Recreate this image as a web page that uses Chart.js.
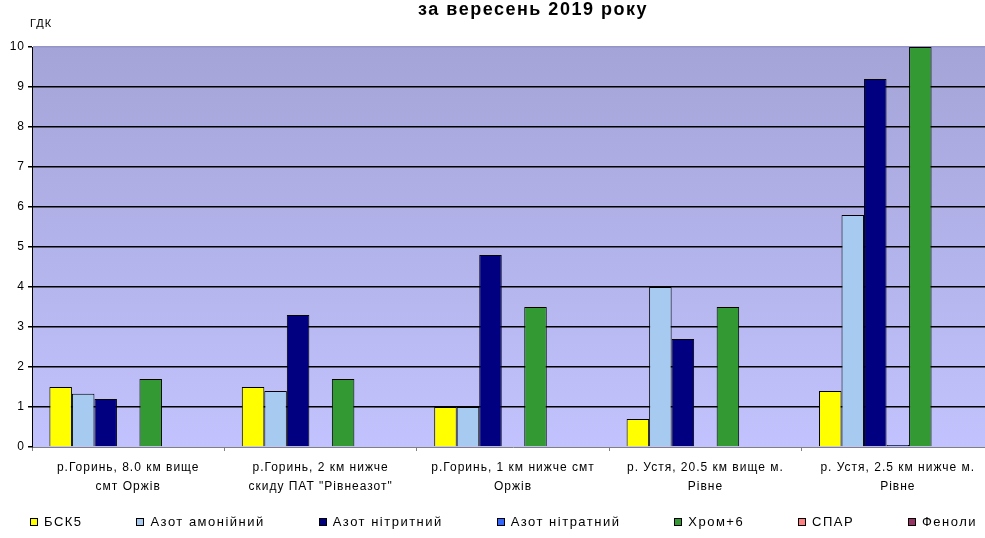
<!DOCTYPE html>
<html lang="uk">
<head>
<meta charset="utf-8">
<title>ГДК за вересень 2019 року</title>
<script src="https://cdn.jsdelivr.net/npm/chart.js@4.4.1/dist/chart.umd.min.js"></script>
<style>
  html, body { margin: 0; padding: 0; background: #fff; overflow: hidden; }
  #wrap { position: relative; width: 1006px; height: 538px; }
  #legend {
    position: absolute; left: 30px; top: 515px; width: 947px;
    display: flex; justify-content: space-between;
    font: 13px "Liberation Sans", Arial, sans-serif; letter-spacing: 1.5px;
    line-height: 14px; color: #000;
  }
  .lg-item { display: flex; align-items: center; white-space: nowrap; }
  .lg-item i { display: inline-block; width: 6px; height: 6px; border: 1px solid #000; margin-right: 6px; }
</style>
</head>
<body>
<div id="wrap">
  <canvas id="gdkChart" width="1006" height="538"></canvas>
  <div id="legend"></div>
</div>
<script>
// ================== DATA ===================
const posts = [
  ["р.Горинь, 8.0 км вище", "смт Оржів"],
  ["р.Горинь, 2 км нижче", "скиду ПАТ \"Рівнеазот\""],
  ["р.Горинь, 1 км нижче смт", "Оржів"],
  ["р. Устя, 20.5 км вище м.", "Рівне"],
  ["р. Устя, 2.5 км нижче м.", "Рівне"]
];

const bsk5     = [1.5, 1.5, 1.0, 0.7, 1.4];
const ammonium = [1.33, 1.4, 1.0, 4.0, 5.8];
const nitrite  = [1.2, 3.3, 4.8, 2.7, 9.2];
const nitrate  = [null, null, null, null, 0.05];
const chrome6  = [1.7, 1.7, 3.5, 3.5, 10];
const spar     = [null, null, null, null, null];
const phenols  = [null, null, null, null, null];

const seriesNames  = ["БСК5", "Азот амонійний", "Азот нітритний", "Азот нітратний", "Хром+6", "СПАР", "Феноли"];
const seriesColors = ["#FFFF00", "#A6CAF0", "#000080", "#3366FF", "#339933", "#FF8080", "#993366"];

const yMin = 0;
const yMax = 10;
const yStep = 1;

const chartTitle = "за вересень 2019 року";
const unitLabel = "ГДК";

const FONT = '"Liberation Sans", Arial, sans-serif';
Chart.defaults.font.family = FONT;
Chart.defaults.color = "#000";

// ================== PLOT DECOR ===================
const sheetDecor = {
  id: "sheetDecor",
  beforeUpdate(chart) { chart.ctx.letterSpacing = "1px"; },
  beforeLayout(chart) { chart.ctx.letterSpacing = "1px"; },
  beforeDraw(chart) {
    const { ctx, chartArea: a } = chart;
    ctx.letterSpacing = "1px";
    const fill = ctx.createLinearGradient(0, a.top, 0, a.bottom);
    fill.addColorStop(0, "#a4a4d8");
    fill.addColorStop(1, "#c2c2fe");
    ctx.save();
    ctx.fillStyle = fill;
    ctx.fillRect(a.left, a.top, a.right - a.left, a.bottom - a.top);
    ctx.restore();
  },
  afterDraw(chart) {
    const ctx = chart.ctx;
    ctx.save();
    ctx.fillStyle = "#000";
    ctx.textBaseline = "middle";

    ctx.font = "bold 18px " + FONT;
    ctx.letterSpacing = "1.5px";
    ctx.textAlign = "center";
    ctx.fillText(chartTitle, 533, 10);

    ctx.font = "11px " + FONT;
    ctx.letterSpacing = "1px";
    ctx.textAlign = "left";
    ctx.fillText(unitLabel, 30, 24);
    ctx.restore();
  }
};

// ================== CHART ===================
function buildDatasets() {
  const values = [bsk5, ammonium, nitrite, nitrate, chrome6, spar, phenols];
  return values.map((data, i) => ({
    label: seriesNames[i],
    data,
    backgroundColor: seriesColors[i],
    borderColor: "#000",
    borderWidth: 1
  }));
}

function gridColor(ctx) {
  const v = ctx.tick && ctx.tick.value;
  if (v === yMin) return "rgba(0,0,0,0)";
  if (v === yMax) return "#9494c8";
  return "#000";
}

function renderLegend(chart) {
  const box = document.getElementById("legend");
  box.innerHTML = chart.data.datasets.map(ds =>
    '<span class="lg-item"><i style="background:' + ds.backgroundColor + '"></i>' + ds.label + '</span>'
  ).join("");
}

const chart = new Chart(document.getElementById("gdkChart"), {
  type: "bar",
  data: { labels: posts, datasets: buildDatasets() },
  options: {
    responsive: false,
    animation: false,
    layout: { padding: { top: 47, right: 12, left: 0, bottom: 24 } },
    datasets: { bar: { categoryPercentage: 0.819, barPercentage: 1 } },
    plugins: {
      legend: { display: false },
      tooltip: { enabled: false },
      title: { display: false }
    },
    scales: {
      x: {
        grid: { offset: true, drawOnChartArea: false, tickLength: 4, color: "#808080", tickColor: "#808080" },
        border: { color: "#808080", width: 1 },
        ticks: {
          font: { size: 12, lineHeight: 1.6 },
          padding: 7,
          maxRotation: 0,
          autoSkip: false
        },
        afterFit(scale) { scale.height = 67; }
      },
      y: {
        min: yMin,
        max: yMax,
        grid: { color: gridColor, lineWidth: 1.5, tickLength: 4, tickColor: "#000" },
        border: { color: "#000", width: 1 },
        ticks: { stepSize: yStep, font: { size: 12 }, padding: 3 },
        afterFit(scale) { scale.width = 32; }
      }
    }
  },
  plugins: [sheetDecor]
});

renderLegend(chart);
</script>
</body>
</html>
